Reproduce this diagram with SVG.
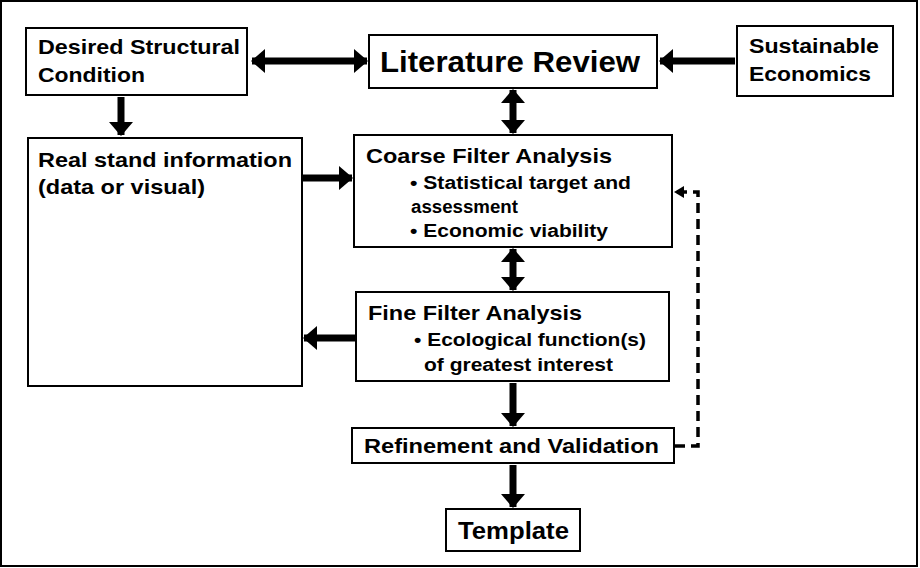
<svg xmlns="http://www.w3.org/2000/svg" width="920" height="568" viewBox="0 0 920 568">
<style>
.b{fill:#fff;stroke:#000;stroke-width:2}
.t{font-family:"Liberation Sans",Arial,sans-serif;font-weight:bold;fill:#000}
.c{stroke:#000;stroke-width:7;fill:none}
</style>
<defs>
<marker id="a" markerUnits="userSpaceOnUse" markerWidth="14" markerHeight="24" refX="13" refY="12" orient="auto-start-reverse"><path d="M0,0L14,12L0,24Z"/></marker>
<marker id="s" markerUnits="userSpaceOnUse" markerWidth="10" markerHeight="12" refX="9" refY="6" orient="auto"><path d="M0,0L10,6L0,12Z"/></marker>
</defs>
<rect width="920" height="568" fill="#fff"/>
<rect x="1" y="1" width="916" height="565" fill="none" stroke="#000" stroke-width="2"/>
<g id="connectors">
<path class="c" d="M252,61H367" marker-start="url(#a)" marker-end="url(#a)"/>
<path class="c" d="M735,61H660" marker-end="url(#a)"/>
<path class="c" d="M513,90V133" marker-start="url(#a)" marker-end="url(#a)"/>
<path class="c" d="M121,97V135" marker-end="url(#a)"/>
<path class="c" d="M302,178H352" marker-end="url(#a)"/>
<path class="c" d="M513,249V290" marker-start="url(#a)" marker-end="url(#a)"/>
<path class="c" d="M355,338H304" marker-end="url(#a)"/>
<path class="c" d="M513,383V426" marker-end="url(#a)"/>
<path class="c" d="M513,465V507" marker-end="url(#a)"/>
<path d="M675,446H698V192H675" fill="none" stroke="#000" stroke-width="3.5" stroke-dasharray="10,6" marker-end="url(#s)"/>
</g>
<g id="dsc"><rect class="b" x="26" y="28" width="221" height="67"/><text class="t" font-size="21" x="38" y="54" textLength="202" lengthAdjust="spacingAndGlyphs">Desired Structural</text><text class="t" font-size="21" x="38" y="82" textLength="107" lengthAdjust="spacingAndGlyphs">Condition</text></g>
<g id="lr"><rect class="b" x="369" y="35" width="288" height="53"/><text class="t" font-size="29" x="380" y="72" textLength="260" lengthAdjust="spacingAndGlyphs">Literature Review</text></g>
<g id="se"><rect class="b" x="737" y="26" width="156" height="70"/><text class="t" font-size="21" x="749" y="53" textLength="130" lengthAdjust="spacingAndGlyphs">Sustainable</text><text class="t" font-size="21" x="749" y="81" textLength="122" lengthAdjust="spacingAndGlyphs">Economics</text></g>
<g id="rsi"><rect class="b" x="28" y="138" width="274" height="248"/><text class="t" font-size="21" x="38" y="167" textLength="254" lengthAdjust="spacingAndGlyphs">Real stand information</text><text class="t" font-size="21" x="38" y="194" textLength="167" lengthAdjust="spacingAndGlyphs">(data or visual)</text></g>
<g id="cfa"><rect class="b" x="354" y="135" width="318" height="112"/><text class="t" font-size="21" x="366" y="163" textLength="246" lengthAdjust="spacingAndGlyphs">Coarse Filter Analysis</text><text class="t" font-size="18" x="410" y="189" textLength="221" lengthAdjust="spacingAndGlyphs">• Statistical target and</text><text class="t" font-size="18" x="411" y="213" textLength="107" lengthAdjust="spacingAndGlyphs">assessment</text><text class="t" font-size="18" x="410" y="237" textLength="198" lengthAdjust="spacingAndGlyphs">• Economic viability</text></g>
<g id="ffa"><rect class="b" x="356" y="292" width="313" height="89"/><text class="t" font-size="21" x="368" y="320" textLength="214" lengthAdjust="spacingAndGlyphs">Fine Filter Analysis</text><text class="t" font-size="18" x="414" y="346" textLength="232" lengthAdjust="spacingAndGlyphs">• Ecological function(s)</text><text class="t" font-size="18" x="424" y="371" textLength="189" lengthAdjust="spacingAndGlyphs">of greatest interest</text></g>
<g id="rv"><rect class="b" x="352" y="428" width="322" height="35"/><text class="t" font-size="21" x="364" y="453" textLength="295" lengthAdjust="spacingAndGlyphs">Refinement and Validation</text></g>
<g id="tpl"><rect class="b" x="446" y="509" width="134" height="42"/><text class="t" font-size="23" x="458" y="539" textLength="111" lengthAdjust="spacingAndGlyphs">Template</text></g>
</svg>
